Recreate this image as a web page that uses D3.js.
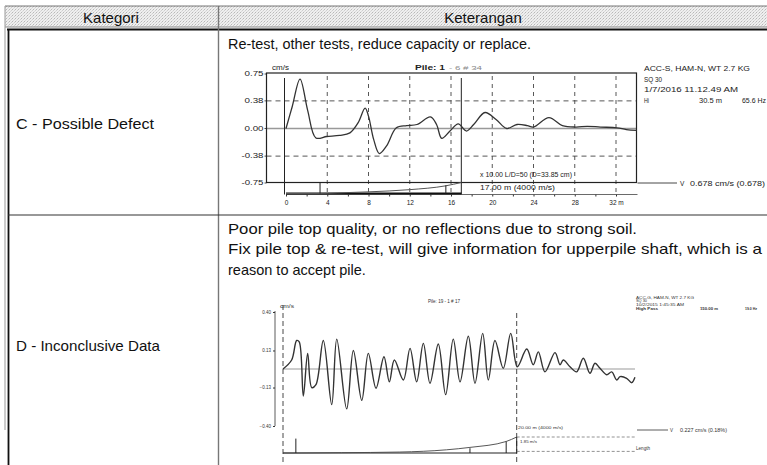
<!DOCTYPE html>
<html>
<head>
<meta charset="utf-8">
<script src="https://cdn.jsdelivr.net/npm/d3@7"></script>
<style>
	body { margin: 0; background: #fff; }
	svg { display: block; font-family: "Liberation Sans", Arial, sans-serif; }
</style>
</head>
<body>
<script>
// table text
const headers = ["Kategori", "Keterangan"];
const categories = ["C - Possible Defect", "D - Inconclusive Data"];
const notesC = ["Re-test, other tests, reduce capacity or replace."];
const notesD = [
	"Poor pile top quality, or no reflections due to strong soil.",
	"Fix pile top & re-test, will give information for upperpile shaft, which is a",
	"reason to accept pile."
];

// chart C : velocity (cm/s) against depth (m)
const depthC = [0, 0.6, 1.36, 2.1, 2.9, 3.95, 5.2, 6.2, 7.0, 7.67, 8.0, 8.5, 9.05, 9.75, 10.7, 11.7, 12.7, 14.0, 14.6, 15.1, 15.9, 16.7, 17.5, 18.2, 19.3, 20.4, 21.4, 22.4, 23.4, 24.0, 25.5, 26.8, 28.1, 29.2, 30.5, 32.1, 33.0, 34.0];
const velC = [0, 0.3, 0.68, 0.25, -0.13, -0.11, -0.095, -0.06, 0.08, 0.28, 0.17, -0.15, -0.345, -0.24, 0.01, 0.04, 0.055, 0.16, 0.055, -0.135, -0.035, 0.065, -0.035, 0.055, 0.22, 0.12, 0.0, 0.055, 0.04, 0.02, 0.15, 0.04, 0.02, 0.03, 0.02, 0.01, -0.015, -0.025];
const yTicksC = [0.75, 0.38, 0.0, -0.38, -0.75];
const gridDepthC = [4, 8, 12, 16, 20, 24, 28, 32];
const toeC = 17;
const profDepthC = [0, 3.3, 5, 8, 12, 15.5, 17];
const profC = [0, 0, 0.05, 0.15, 0.35, 0.7, 1];
const infoC = ["ACC-S, HAM-N, WT 2.7 KG", "SQ 30", "1/7/2016 11.12.49 AM"];
const infoC2 = ["Hi", "30.5 m", "65.6 Hz"];

// chart D
const depthD = [0, 0.74, 1.17, 1.39, 1.74, 2.11, 2.46, 2.82, 3.45, 4.17, 4.60, 5.45, 6.02, 6.74, 7.30, 7.96, 8.64, 9.10, 9.53, 10.30, 10.87, 11.44, 12.01, 12.58, 13.29, 13.92, 14.57, 15.15, 15.86, 16.43, 17.09, 17.57, 18.14, 18.85, 19.49, 20.05, 20.86, 21.42, 21.85, 22.42, 23.28, 23.71, 23.99, 24.56, 25.13, 25.70, 26.27, 26.70, 27.13, 27.70, 28.13, 28.56, 28.84, 29.41, 29.84, 30.12];
const velD = [0, 0.063, 0.20, 0.19, -0.19, 0.11, -0.13, -0.11, 0.20, -0.25, 0.21, -0.28, 0.13, -0.22, 0.11, -0.135, 0.086, -0.09, 0.063, -0.077, 0.145, -0.09, 0.18, -0.10, 0.175, -0.18, 0.21, -0.09, 0.23, -0.10, 0.25, -0.077, 0.20, 0.005, 0.25, 0.016, 0.14, 0.03, 0.12, -0.02, 0.115, 0.03, 0.063, 0.016, -0.02, 0.075, -0.03, 0.04, 0.005, -0.04, -0.02, -0.077, -0.054, -0.065, -0.096, -0.058];
const yTicksD = [0.40, 0.13, -0.13, -0.40];
const toeD = 20;
const profDepthD = [0, 1.1, 5, 10, 14, 16, 19.1, 20];
const profD = [0, 0, 0.02, 0.06, 0.2, 0.35, 0.72, 1];
const infoD = ["ACC-G, HAM-N, WT 2.7 KG", "SQ 30", "10/2/2015 1:45:35 AM"];
const infoD2 = ["High Pass", "150.00 m", "19.0 Hz"];

const w = 767, h = 465;
const svg = d3.select("body").append("svg").attr("width", w).attr("height", h);

// the scan is stretched sideways, so most text gets a fixed length
const txt = (g, x, y, s, size, len, fill) => {
	const t = g.append("text").attr("x", x).attr("y", y).attr("font-size", size)
		.attr("fill", fill || "#222").text(s);
	if (len) t.attr("textLength", len).attr("lengthAdjust", "spacingAndGlyphs");
	return t;
};

// speckled grey for the header row
const pat = svg.append("defs").append("pattern")
	.attr("id", "speck").attr("width", 3).attr("height", 3)
	.attr("patternUnits", "userSpaceOnUse");
pat.append("rect").attr("width", 3).attr("height", 3).attr("fill", "#efefef");
pat.append("rect").attr("width", 1).attr("height", 1).attr("fill", "#b8b8b8");
pat.append("rect").attr("x", 2).attr("y", 1).attr("width", 1).attr("height", 1).attr("fill", "#cfcfcf");
pat.append("rect").attr("x", 1).attr("y", 2).attr("width", 1).attr("height", 1).attr("fill", "#dadada");

// ---------- table ----------
const colX = 218.5;
svg.append("rect").attr("x", 5).attr("y", 6).attr("width", w - 5).attr("height", 21).attr("fill", "url(#speck)");
const line = (x1, y1, x2, y2, c, sw) =>
	svg.append("line").attr("x1", x1).attr("y1", y1).attr("x2", x2).attr("y2", y2)
		.attr("stroke", c).attr("stroke-width", sw);
line(5, 6, w, 6, "#777", 1);
line(5, 27, w, 27, "#888", 1);
line(7, 29.5, w, 29.5, "#111", 1.8);
line(5, 6, 5, 430, "#999", 1);
line(8.5, 29, 8.5, h, "#111", 1.8);
line(colX, 6, colX, h, "#777", 1.4);
line(8, 215, w, 215, "#333", 1.1);

svg.selectAll(".hdr").data(headers).enter().append("text")
	.attr("x", (d, i) => i ? 483 : 111).attr("y", 22.5).attr("text-anchor", "middle")
	.attr("font-size", 15).attr("fill", "#111").text(d => d);
txt(svg, 16, 129, categories[0], 15, 138, "#111");
txt(svg, 16, 351, categories[1], 15, 144, "#111");
txt(svg, 228, 49, notesC[0], 14.5, 303, "#111");
const noteLen = [409, 534, null];
notesD.forEach((s, i) => txt(svg, 228, 233.5 + i * 20.5, s, i === 2 ? 14.5 : 15, noteLen[i], "#111"));

// ---------- chart C ----------
const xC = d3.scaleLinear().domain([0, 32]).range([286, 616]);
const yC = d3.scaleLinear().domain([-0.75, 0.75]).range([183, 74]);
const fL = 266.5, fR = 636.5, fT = 73, fB = 182.5, ruler = 194.5;
const gC = svg.append("g");

// dashed grid
gC.selectAll(".vg").data(gridDepthC).enter().append("line")
	.attr("x1", d => xC(d)).attr("x2", d => xC(d)).attr("y1", fT + 3).attr("y2", ruler)
	.attr("stroke", "#444").attr("stroke-width", 0.9).attr("stroke-dasharray", "4,4");
gC.selectAll(".hg").data([0.38, -0.38]).enter().append("line")
	.attr("x1", fL).attr("x2", fR).attr("y1", d => yC(d)).attr("y2", d => yC(d))
	.attr("stroke", "#444").attr("stroke-width", 0.9).attr("stroke-dasharray", "5,4");
gC.append("line").attr("x1", fL).attr("x2", fR).attr("y1", yC(0)).attr("y2", yC(0))
	.attr("stroke", "#999").attr("stroke-width", 1.3);

// pulse start and toe markers
gC.selectAll(".mk").data([0, toeC]).enter().append("line")
	.attr("x1", d => xC(d) - (d === 0 ? 1.5 : 0)).attr("x2", d => xC(d) - (d === 0 ? 1.5 : 0))
	.attr("y1", fT + 5).attr("y2", ruler)
	.attr("stroke", "#222").attr("stroke-width", 1);

// frame
gC.append("rect").attr("x", fL).attr("y", fT).attr("width", fR - fL).attr("height", fB - fT)
	.attr("fill", "none").attr("stroke", "#222").attr("stroke-width", 1.2);

// velocity trace
gC.append("path")
	.datum(depthC.map((d, i) => [d, velC[i]]))
	.attr("d", d3.line().x(d => xC(d[0])).y(d => yC(d[1])).curve(d3.curveCatmullRom))
	.attr("fill", "none").attr("stroke", "#333").attr("stroke-width", 1.3);

// y labels
gC.selectAll(".yl").data(yTicksC).enter().append("text")
	.attr("x", fL - 3).attr("y", d => yC(d) + 2.3).attr("text-anchor", "end")
	.attr("font-size", 6.5).attr("fill", "#222").text(d => d.toFixed(2))
	.attr("textLength", d => d < 0 ? 22 : 19).attr("lengthAdjust", "spacingAndGlyphs");
gC.selectAll(".yt").data(yTicksC).enter().append("line")
	.attr("x1", fL - 2).attr("x2", fL).attr("y1", d => yC(d)).attr("y2", d => yC(d))
	.attr("stroke", "#222").attr("stroke-width", 0.8);
txt(gC, 272, 70, "cm/s", 6.5, 17);
txt(gC, 415, 69.5, "Pile: 1", 7.5, 30).attr("font-weight", "bold");
txt(gC, 449, 69.5, "- 6 # 34", 6, 33, "#888");

// x ruler
const xAxisC = d3.axisBottom(xC).tickValues(d3.range(0, 34, 2)).tickSize(2).tickPadding(4)
	.tickFormat(d => d % 4 ? "" : (d === 32 ? "32 m" : d));
const axC = gC.append("g").attr("transform", "translate(0," + ruler + ")").call(xAxisC);
axC.select(".domain").remove();
axC.selectAll("text").attr("font-size", 6.5).attr("fill", "#222").attr("font-family", "Liberation Sans");
axC.selectAll("line").attr("stroke", "#333");
gC.append("line").attr("x1", xC(0)).attr("x2", fR + 1).attr("y1", ruler).attr("y2", ruler)
	.attr("stroke", "#444").attr("stroke-width", 0.8);

// pile profile
const pyC = d3.scaleLinear().domain([0, 1]).range([ruler - 1, fB]);
gC.append("line").attr("x1", xC(0)).attr("x2", xC(toeC)).attr("y1", ruler - 1).attr("y2", ruler - 1)
	.attr("stroke", "#111").attr("stroke-width", 2);
gC.append("path").datum(profDepthC.map((d, i) => [d, profC[i]]))
	.attr("d", d3.line().x(d => xC(d[0])).y(d => pyC(d[1])).curve(d3.curveMonotoneX))
	.attr("fill", "none").attr("stroke", "#555").attr("stroke-width", 1);
gC.selectAll(".pm").data([3.3, 15.5]).enter().append("line")
	.attr("x1", d => xC(d)).attr("x2", d => xC(d)).attr("y1", (d, i) => i ? pyC(0.75) : fB).attr("y2", ruler - 1)
	.attr("stroke", "#222").attr("stroke-width", 1);

txt(gC, 480, 177, "x 10.00  L/D=50 (D=33.85 cm)", 6.5, 92);
txt(gC, 480, 189.5, "17.00 m (4000 m/s)", 6.5, 75);

// legend and info
gC.append("line").attr("x1", fR + 1).attr("x2", 677).attr("y1", 183).attr("y2", 183).attr("stroke", "#333").attr("stroke-width", 0.9);
txt(gC, 680, 185.5, "V", 6.5);
txt(gC, 690, 185.5, "0.678 cm/s  (0.678)", 6.5, 75);
const infoLen = [106, 18, 94];
infoC.forEach((s, i) => txt(gC, 644, 71 + i * 10.5, s, 6.5, infoLen[i]));
const info2X = [644, 699, 742], info2Len = [5, 23, 24];
infoC2.forEach((s, i) => txt(gC, info2X[i], 102.5, s, 6.5, info2Len[i]));

// ---------- chart D ----------
const xD = d3.scaleLinear().domain([0, toeD]).range([283, 516.7]);
const yD = d3.scaleLinear().domain([-0.40, 0.40]).range([426, 312]);
const gD = svg.append("g");
const dEnd = 635;

gD.append("line").attr("x1", xD(0)).attr("x2", dEnd).attr("y1", yD(0)).attr("y2", yD(0))
	.attr("stroke", "#999").attr("stroke-width", 1.2);
gD.selectAll(".dm").data([0, toeD]).enter().append("line")
	.attr("x1", d => xD(d)).attr("x2", d => xD(d)).attr("y1", (d, i) => i ? 313 : 305).attr("y2", h)
	.attr("stroke", "#333").attr("stroke-width", 0.9).attr("stroke-dasharray", "5,3");

gD.append("path")
	.datum(depthD.map((d, i) => [d, velD[i]]))
	.attr("d", d3.line().x(d => xD(d[0])).y(d => yD(d[1])).curve(d3.curveCatmullRom))
	.attr("fill", "none").attr("stroke", "#333").attr("stroke-width", 1.4);

const yAxisD = d3.axisLeft(yD).tickValues(yTicksD).tickSize(2).tickPadding(2).tickFormat(d3.format(".2f"));
const ayD = gD.append("g").attr("transform", "translate(275,0)").call(yAxisD);
ayD.select(".domain").attr("stroke", "#333").attr("stroke-width", 0.8).attr("d", "M0,311V426");
ayD.selectAll("text").attr("font-size", 4.5).attr("fill", "#333").attr("font-family", "Liberation Sans");
ayD.selectAll("line").attr("stroke", "#333");

txt(gD, 280, 308, "cm/s", 4.5, 14, "#333");
txt(gD, 428, 303, "Pile: 19 - 1 # 17", 4.5, 32, "#333");

// pile profile
const pyD = d3.scaleLinear().domain([0, 1]).range([453, 437]);
gD.append("line").attr("x1", xD(0)).attr("x2", xD(toeD)).attr("y1", 453).attr("y2", 453)
	.attr("stroke", "#222").attr("stroke-width", 1.2);
gD.append("path").datum(profDepthD.map((d, i) => [d, profD[i]]))
	.attr("d", d3.line().x(d => xD(d[0])).y(d => pyD(d[1])).curve(d3.curveMonotoneX))
	.attr("fill", "none").attr("stroke", "#444").attr("stroke-width", 0.9);
gD.selectAll(".pd").data([1.1, 16, 19.1, 20]).enter().append("line")
	.attr("x1", d => xD(d)).attr("x2", d => xD(d))
	.attr("y1", (d, i) => pyD([0.9, 0.3, 0.72, 1][i])).attr("y2", 453)
	.attr("stroke", "#222").attr("stroke-width", 1);
gD.selectAll(".pl").data([1, 0.1]).enter().append("line")
	.attr("x1", xD(toeD)).attr("x2", dEnd).attr("y1", d => pyD(d)).attr("y2", d => pyD(d))
	.attr("stroke", "#777").attr("stroke-width", 0.8).attr("stroke-dasharray", "3,2");
txt(gD, 636, 449.5, "Length", 4.5, 14, "#333");
txt(gD, 520, 443, "1.85 m/s", 4, 17, "#333");
txt(gD, 518, 429, "20.00 m (4000 m/s)", 4, 45, "#333");

gD.append("line").attr("x1", 637).attr("x2", 668).attr("y1", 430).attr("y2", 430).attr("stroke", "#333").attr("stroke-width", 0.8);
txt(gD, 670, 431.5, "V", 4.5, null, "#333");
txt(gD, 680, 431.5, "0.227 cm/s  (0.18%)", 4.5, 47, "#333");
const infoDLen = [58, 11, 48];
infoD.forEach((s, i) => txt(gD, 636, 298.5 + i * 3.6, s, 4, infoDLen[i], "#333"));
const infoD2X = [636, 700, 745], infoD2Len = [22, 18, 12];
infoD2.forEach((s, i) => txt(gD, infoD2X[i], 310, s, 4.3, infoD2Len[i], "#333").attr("font-weight", "bold"));
</script>
</body>
</html>
